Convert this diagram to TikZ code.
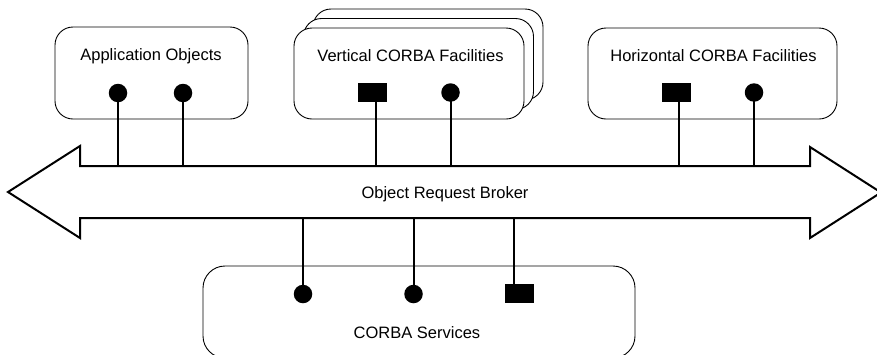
\documentclass[tikz,border=0pt]{standalone}
\usepackage{fontspec}
\setmainfont{Liberation Sans}
\begin{document}
\begin{tikzpicture}[x=1pt,y=-1pt,
  box/.style={draw,line width=0.9pt,rounded corners=18pt,fill=white,inner sep=0pt},
  lbl/.style={font=\fontsize{16.5}{20}\selectfont,inner sep=0pt,anchor=base},
  plug/.style={circle,fill,inner sep=0pt,minimum size=18.5pt},
  sock/.style={rectangle,fill,inner sep=0pt,minimum width=29pt,minimum height=19pt},
  stem/.style={line width=2pt},
  bus/.style={line width=2pt,line join=miter,fill=white}]
\useasboundingbox (0,0) rectangle (877,354);
\clip (0,0) rectangle (877,354);

% component boxes
\node[box,minimum width=193pt,minimum height=92pt] (app) at (151.5,73) {};
\node[box,minimum width=230pt,minimum height=91pt] (vert3) at (428,54.5) {};
\node[box,minimum width=230pt,minimum height=91pt] (vert2) at (418.5,64) {};
\node[box,minimum width=230pt,minimum height=91pt] (vert) at (409,73.5) {};
\node[box,minimum width=249pt,minimum height=91pt] (horiz) at (712.5,73.5) {};
\node[box,minimum width=432pt,minimum height=92pt,rounded corners=22pt] (serv) at (419,312) {};

% box titles
\node[lbl] (appt) at (151,60) {Application Objects};
\node[lbl] (vertt) at (410.5,61) {Vertical CORBA Facilities};
\node[lbl] (horizt) at (713.5,61) {Horizontal CORBA Facilities};
\node[lbl] (servt) at (417,338) {CORBA Services};

% the broker bus
\coordinate (bustop) at (0,166);
\coordinate (busbot) at (0,218);
\draw[bus] (8,192) -- (80,146) -- (80,166) -- (810,166) -- (810,147) -- (881,192.5)
  -- (810,238) -- (810,218) -- (80,218) -- (80,238) -- cycle;
\node[lbl] (orb) at (445,198) {Object Request Broker};

% interface points
\node[plug] (a1) at (118,93) {};
\node[plug] (a2) at (183,93) {};
\node[sock] (v1) at (372.5,92.5) {};
\node[plug] (v2) at (450.5,92.5) {};
\node[sock] (h1) at (676,92) {};
\node[plug] (h2) at (754,92.5) {};
\node[plug] (s1) at (303,294) {};
\node[plug] (s2) at (413.5,294) {};
\node[sock] (s3) at (519.5,293.5) {};

% stems to the bus
\path (v1.center) ++(3.5,0) coordinate (v1s);
\path (h1.center) ++(3,0) coordinate (h1s);
\path (s3.center) ++(-6,0) coordinate (s3s);
\draw[stem] (a1.center) -- (a1 |- bustop);
\draw[stem] (a2.center) -- (a2 |- bustop);
\draw[stem] (v1s) -- (v1s |- bustop);
\draw[stem] (v2.center) -- (v2 |- bustop);
\draw[stem] (h1s) -- (h1s |- bustop);
\draw[stem] (h2.center) -- (h2 |- bustop);
\draw[stem] (s1.center) -- (s1 |- busbot);
\draw[stem] (s2.center) -- (s2 |- busbot);
\draw[stem] (s3s) -- (s3s |- busbot);
\end{tikzpicture}
\end{document}
